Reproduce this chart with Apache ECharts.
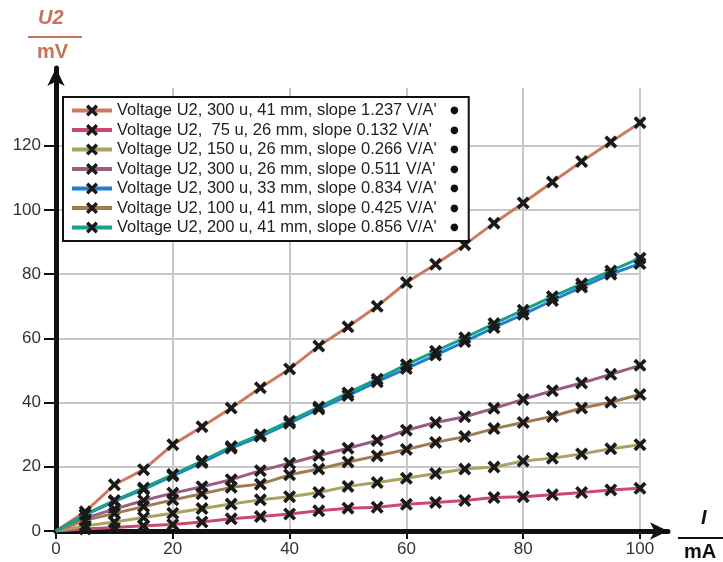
<!DOCTYPE html>
<html>
<head>
<meta charset="utf-8">
<script src="https://cdn.jsdelivr.net/npm/echarts@6/dist/echarts.min.js"></script>
<style>
  html, body { margin: 0; padding: 0; background: #fff; }
  #chart { width: 723px; height: 562px; }
</style>
</head>
<body>
<div id="chart"></div>
<script>
// Current I in mA (one reading every 5 mA)
const currents = [0, 5, 10, 15, 20, 25, 30, 35, 40, 45, 50, 55, 60, 65, 70, 75, 80, 85, 90, 95, 100];

// Measured voltage U2 in mV for each coil configuration
const u300_41 = [0, 6.0, 14.4, 19.1, 26.9, 32.5, 38.3, 44.6, 50.5, 57.6, 63.6, 70.0, 77.4, 83.1, 89.2, 95.9, 102.2, 108.7, 115.1, 121.2, 127.2];
const u75_26  = [0, 0.6, 1.1, 1.6, 2.0, 2.8, 3.8, 4.5, 5.3, 6.3, 7.1, 7.4, 8.3, 8.9, 9.5, 10.4, 10.7, 11.3, 12.0, 12.8, 13.3];
const u150_26 = [0, 1.6, 2.8, 4.2, 5.5, 7.0, 8.4, 9.7, 10.7, 12.0, 13.9, 15.1, 16.4, 17.9, 19.3, 19.9, 21.8, 22.7, 24.0, 25.6, 26.9];
const u300_26 = [0, 4.0, 6.8, 9.5, 11.8, 13.8, 16.0, 18.8, 21.1, 23.5, 25.8, 28.2, 31.4, 33.8, 35.6, 38.2, 41.0, 43.7, 46.1, 48.8, 51.6];
const u300_33 = [0, 5.0, 9.2, 13.0, 17.2, 21.3, 25.8, 29.5, 33.6, 38.0, 42.2, 46.5, 50.6, 54.8, 59.0, 63.4, 67.5, 71.8, 76.0, 80.0, 83.3];
const u100_41 = [0, 3.3, 5.5, 7.6, 9.7, 11.6, 13.6, 14.6, 17.5, 19.3, 21.5, 23.4, 25.4, 27.6, 29.4, 31.9, 33.8, 35.7, 38.3, 40.1, 42.5];
const u200_41 = [0, 5.2, 9.5, 13.4, 17.6, 21.8, 26.3, 30.0, 34.2, 38.6, 43.0, 47.3, 51.8, 56.0, 60.2, 64.6, 68.8, 73.0, 77.0, 81.0, 85.0];

const seriesNames = [
  "Voltage U2, 300 u, 41 mm, slope 1.237 V/A'",
  "Voltage U2,  75 u, 26 mm, slope 0.132 V/A'",
  "Voltage U2, 150 u, 26 mm, slope 0.266 V/A'",
  "Voltage U2, 300 u, 26 mm, slope 0.511 V/A'",
  "Voltage U2, 300 u, 33 mm, slope 0.834 V/A'",
  "Voltage U2, 100 u, 41 mm, slope 0.425 V/A'",
  "Voltage U2, 200 u, 41 mm, slope 0.856 V/A'"
];
const seriesValues = [u300_41, u75_26, u150_26, u300_26, u300_33, u100_41, u200_41];
const seriesColors = ['#cd7a5e', '#c94a6c', '#a9a263', '#9a5d82', '#1f7fd2', '#a07a52', '#17a08a'];

const xTicks = [0, 20, 40, 60, 80, 100];
const yTicks = [0, 20, 40, 60, 80, 100, 120];

// filled "X" marker
const crossPath = 'path://M0,2L2,0L5,3L8,0L10,2L7,5L10,8L8,10L5,7L2,10L0,8L3,5Z';

const chart = echarts.init(document.getElementById('chart'), null, { renderer: 'canvas' });

const series = seriesNames.map((name, i) => ({
  name: name,
  type: 'line',
  xAxisIndex: 0,
  yAxisIndex: 0,
  data: currents.map((c, k) => k === 0
    ? { value: [c, seriesValues[i][k]], symbol: 'none' }
    : [c, seriesValues[i][k]]),
  symbol: crossPath,
  symbolSize: 13,
  showSymbol: true,
  showAllSymbol: true,
  lineStyle: { color: seriesColors[i], width: 3 },
  itemStyle: { color: '#1a1a1a' },
  emphasis: { disabled: true },
  animation: false,
  z: 3 + i
}));

const labelFont = { fontFamily: 'Liberation Sans', fontSize: 17, color: '#333' };

const option = {
  backgroundColor: '#fff',
  animation: false,
  grid: [
    { left: 56, right: 83, top: 88, bottom: 31 },
    { left: 56, right: 55, top: 68, bottom: 31 }
  ],
  xAxis: [
    {
      gridIndex: 0, type: 'value', min: 0, max: 100, interval: 20,
      axisLine: { show: false },
      axisTick: { show: true, length: 8, lineStyle: { color: '#111', width: 2 } },
      axisLabel: Object.assign({ margin: 10, formatter: v => xTicks.includes(v) ? String(v) : '' }, labelFont),
      splitLine: { show: true, showMinLine: false, lineStyle: { color: '#c8c8c8', width: 2 } }
    },
    {
      gridIndex: 1, type: 'value', min: 0, max: 1,
      axisLine: { show: true, onZero: false, symbol: ['none', 'arrow'], symbolSize: [13, 18], lineStyle: { color: '#111', width: 5 } },
      axisTick: { show: false }, axisLabel: { show: false }, splitLine: { show: false }
    }
  ],
  yAxis: [
    {
      gridIndex: 0, type: 'value', min: 0, max: 138, interval: 20,
      axisLine: { show: false },
      axisTick: { show: true, length: 12, lineStyle: { color: '#111', width: 2 } },
      axisLabel: Object.assign({ margin: 15, showMaxLabel: false, formatter: v => yTicks.includes(v) ? String(v) : '' }, labelFont),
      splitLine: { show: true, showMinLine: false, showMaxLine: false, lineStyle: { color: '#c8c8c8', width: 2 } }
    },
    {
      gridIndex: 1, type: 'value', min: 0, max: 1,
      axisLine: { show: true, onZero: false, symbol: ['none', 'arrow'], symbolSize: [13, 18], lineStyle: { color: '#111', width: 5 } },
      axisTick: { show: false }, axisLabel: { show: false }, splitLine: { show: false }
    }
  ],
  legend: {
    orient: 'vertical',
    left: 63,
    top: 97,
    padding: [5, 10, 5, 7],
    backgroundColor: '#fff',
    borderColor: '#111',
    borderWidth: 2,
    itemWidth: 40,
    itemHeight: 15,
    itemGap: 2.5,
    itemTextGap: 3,
    selectedMode: false,
    data: seriesNames,
    lineStyle: { width: 4 },
    formatter: name => '{t|' + name + '}{d|●}',
    textStyle: {
      fontFamily: 'Liberation Sans',
      fontSize: 16.5,
      color: '#222',
      rich: {
        t: { fontFamily: 'Liberation Sans', fontSize: 16.5, color: '#222', width: 333, lineHeight: 18 },
        d: { fontFamily: 'DejaVu Sans', fontSize: 10, color: '#111', lineHeight: 18 }
      }
    }
  },
  graphic: [
    { type: 'text', left: 38, top: 8, style: { text: 'U2', fontFamily: 'Liberation Sans', fontStyle: 'italic', fontWeight: 'bold', fontSize: 20, fill: '#c4735c' } },
    { type: 'line', shape: { x1: 28, y1: 37, x2: 82, y2: 37 }, style: { stroke: '#c4735c', lineWidth: 2 } },
    { type: 'text', left: 37, top: 42, style: { text: 'mV', fontFamily: 'Liberation Sans', fontWeight: 'bold', fontSize: 20, fill: '#c4735c' } },
    { type: 'text', left: 701, top: 508, style: { text: 'I', fontFamily: 'Liberation Sans', fontStyle: 'italic', fontWeight: 'bold', fontSize: 20, fill: '#111' } },
    { type: 'line', shape: { x1: 678, y1: 538, x2: 723, y2: 538 }, style: { stroke: '#111', lineWidth: 2 } },
    { type: 'text', left: 684, top: 542, style: { text: 'mA', fontFamily: 'Liberation Sans', fontWeight: 'bold', fontSize: 20, fill: '#111' } }
  ],
  series: series
};

chart.setOption(option);
</script>
</body>
</html>
